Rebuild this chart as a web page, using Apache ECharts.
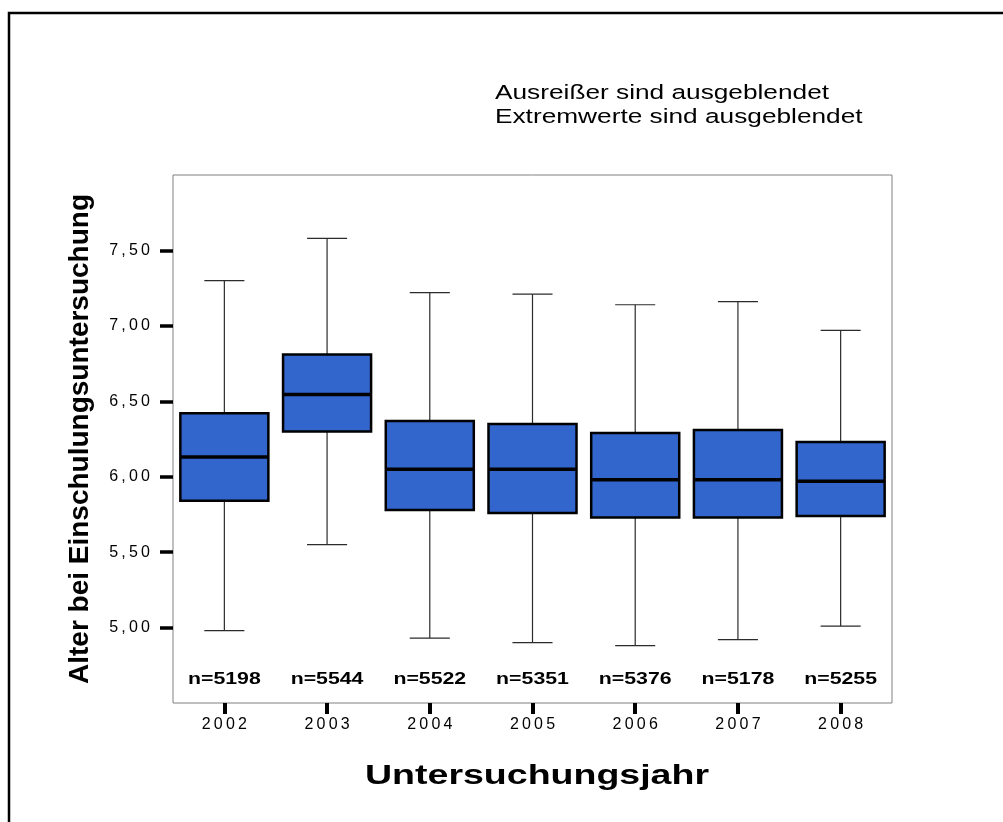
<!DOCTYPE html>
<html>
<head>
<meta charset="utf-8">
<script src="https://cdn.jsdelivr.net/npm/echarts@6/dist/echarts.min.js"></script>
<style>
  html, body { margin: 0; padding: 0; background: #fff; }
  #chart { width: 1003px; height: 822px; }
</style>
</head>
<body>
<div id="chart"></div>
<script>
// Untersuchungsjahre und Boxplot-Kennwerte (Alter in Jahren)
const years = ['2002', '2003', '2004', '2005', '2006', '2007', '2008'];
const lowerWhisker = [4.98, 5.55, 4.93, 4.90, 4.88, 4.92, 5.01];
const quartile1   = [5.84, 6.30, 5.78, 5.76, 5.73, 5.73, 5.74];
const medians     = [6.13, 6.545, 6.05, 6.05, 5.98, 5.98, 5.97];
const quartile3   = [6.42, 6.81, 6.37, 6.35, 6.29, 6.31, 6.23];
const upperWhisker = [7.30, 7.58, 7.22, 7.21, 7.14, 7.16, 6.97];
const counts = [5198, 5544, 5522, 5351, 5376, 5178, 5255];

const yTickValues = [5.0, 5.5, 6.0, 6.5, 7.0, 7.5];
const notes = ['Ausreißer sind ausgeblendet', 'Extremwerte sind ausgeblendet'];
const xTitle = 'Untersuchungsjahr';
const yTitle = 'Alter bei Einschulungsuntersuchung';

const FONT = '"Liberation Sans", Arial, Helvetica, sans-serif';
// horizontal text stretch used for the wide lettering
const WIDE = 1.3;

// Letter-spaced axis labels: each character is a rich-text token with right padding
function richStyles(key, base, gap) {
  const o = {};
  o[key] = Object.assign({}, base, { padding: [0, gap, 0, 0] });
  o[key + 'E'] = Object.assign({}, base);
  return o;
}
function spaced(text, key) {
  const chars = Array.from(text);
  return chars.map((c, i) => '{' + (i === chars.length - 1 ? key + 'E' : key) + '|' + c + '}').join('');
}

const tickRich = richStyles('t', { fontFamily: FONT, fontSize: 16, color: '#000' }, 3.2);

const boxData = years.map((y, i) => [i, lowerWhisker[i], quartile1[i], medians[i], quartile3[i], upperWhisker[i], counts[i]]);

const chart = echarts.init(document.getElementById('chart'), null, { renderer: 'canvas' });

chart.setOption({
  backgroundColor: '#fff',
  animation: false,
  grid: {
    left: 173, top: 175, right: 111, bottom: 119,
    show: true, borderColor: '#808080', borderWidth: 1, backgroundColor: '#fff'
  },
  xAxis: {
    type: 'category',
    data: years,
    boundaryGap: true,
    axisLine: { show: false },
    axisTick: { show: true, alignWithLabel: true, length: 11, lineStyle: { color: '#000', width: 4 } },
    axisLabel: {
      interval: 0,
      margin: 14,
      formatter: v => spaced(v, 't'),
      rich: tickRich
    },
    splitLine: { show: false }
  },
  yAxis: {
    type: 'value',
    min: 4.5, max: 8.0, interval: 0.5,
    axisLine: { show: false },
    axisTick: { show: true, customValues: yTickValues, length: 13, lineStyle: { color: '#000', width: 3.5 } },
    axisLabel: {
      customValues: yTickValues,
      margin: 23,
      formatter: v => spaced(v.toFixed(2).replace('.', ','), 't'),
      rich: tickRich
    },
    splitLine: { show: false }
  },
  graphic: [
    // outer frame
    { type: 'rect', silent: true, shape: { x: 9, y: 13, width: 1100, height: 900 },
      style: { fill: 'none', stroke: '#000', lineWidth: 2.5 } },
    { type: 'text', x: 495, y: 93, scaleX: 1.28, silent: true,
      style: { text: notes[0], font: '20.5px ' + FONT, fill: '#000', align: 'left', verticalAlign: 'middle' } },
    { type: 'text', x: 495, y: 117, scaleX: 1.28, silent: true,
      style: { text: notes[1], font: '20.5px ' + FONT, fill: '#000', align: 'left', verticalAlign: 'middle' } },
    { type: 'text', x: 537, y: 776, scaleX: 1.34, silent: true,
      style: { text: xTitle, font: 'bold 28px ' + FONT, fill: '#000', align: 'center', verticalAlign: 'middle' } },
    { type: 'text', x: 80, y: 439, rotation: Math.PI / 2, silent: true,
      style: { text: yTitle, font: 'bold 28px ' + FONT, fill: '#000', align: 'center', verticalAlign: 'middle' } }
  ],
  series: [{
    type: 'custom',
    data: boxData,
    encode: { x: 0, y: [1, 2, 3, 4, 5] },
    renderItem: function (params, api) {
      const i = api.value(0);
      const pLo = api.coord([i, api.value(1)]);
      const pQ1 = api.coord([i, api.value(2)]);
      const pMed = api.coord([i, api.value(3)]);
      const pQ3 = api.coord([i, api.value(4)]);
      const pHi = api.coord([i, api.value(5)]);
      const band = api.size([1, 0])[0];
      const boxW = band * 0.857;
      const capW = band * 0.39;
      const cx = pMed[0];
      const cs = params.coordSys;
      const whisker = { stroke: '#2b2b2b', lineWidth: 1.2 };
      return {
        type: 'group',
        children: [
          { type: 'line', shape: { x1: cx, y1: pQ3[1], x2: cx, y2: pHi[1] }, style: whisker },
          { type: 'line', shape: { x1: cx, y1: pQ1[1], x2: cx, y2: pLo[1] }, style: whisker },
          { type: 'line', shape: { x1: cx - capW / 2, y1: pHi[1], x2: cx + capW / 2, y2: pHi[1] }, style: whisker },
          { type: 'line', shape: { x1: cx - capW / 2, y1: pLo[1], x2: cx + capW / 2, y2: pLo[1] }, style: whisker },
          { type: 'rect', shape: { x: cx - boxW / 2, y: pQ3[1], width: boxW, height: pQ1[1] - pQ3[1] },
            style: { fill: '#3366cc', stroke: '#000', lineWidth: 2.5 } },
          { type: 'line', shape: { x1: cx - boxW / 2, y1: pMed[1], x2: cx + boxW / 2, y2: pMed[1] },
            style: { stroke: '#000', lineWidth: 3.5 } },
          { type: 'text', x: cx, y: cs.y + cs.height - 23, scaleX: 1.33,
            style: { text: 'n=' + api.value(6), font: 'bold 16px ' + FONT, fill: '#000',
                     align: 'center', verticalAlign: 'middle' } }
        ]
      };
    }
  }]
});
</script>
</body>
</html>
